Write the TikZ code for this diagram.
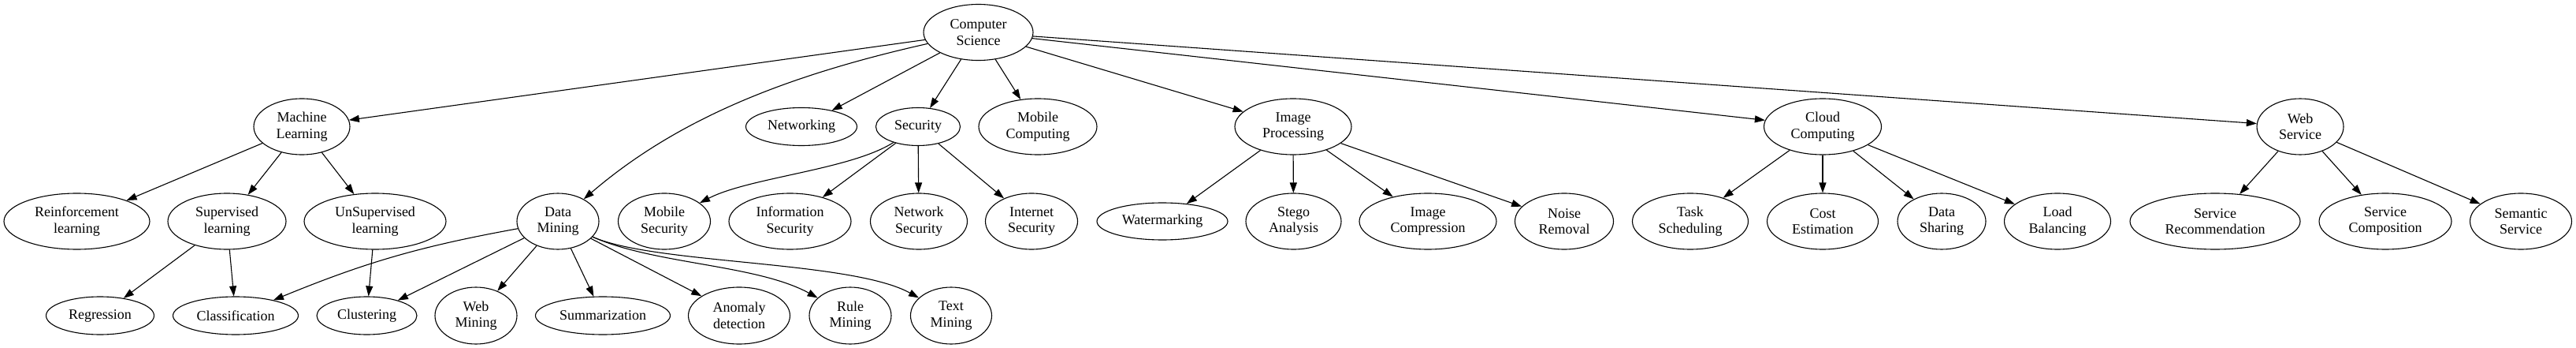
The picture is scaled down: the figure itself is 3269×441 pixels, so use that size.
\documentclass[tikz,border=0pt]{standalone}
\usepackage{fontspec}
\setmainfont{Liberation Serif}
\usepackage{tikz}
\usetikzlibrary{arrows.meta,shapes.geometric}

\tikzset{
  topic/.style={draw, ellipse, line width=1.1pt, inner sep=0pt, align=center,
    minimum height=71, font=\fontsize{18}{20.5}\selectfont},
  flat/.style={topic, minimum height=48},
  link/.style={line width=1.1pt, -{Triangle[length=13pt,width=9pt]}}
}

\begin{document}
\begin{tikzpicture}[x=1pt,y=1pt]
\useasboundingbox (0,0) rectangle (3269,-441);
% root
\node[topic, minimum width=139] (cs) at (1241.5,-41) {Computer\\Science};
% first level
\node[topic, minimum width=122] (ml) at (383,-160.5) {Machine\\Learning};
\node[flat, minimum width=141] (net) at (1017,-160.5) {Networking};
\node[flat, minimum width=107] (sec) at (1165,-160.5) {Security};
\node[topic, minimum width=150] (mc) at (1317,-160.5) {Mobile\\Computing};
\node[topic, minimum width=148] (ip) at (1641,-160.5) {Image\\Processing};
\node[topic, minimum width=149] (cc) at (2313,-160.5) {Cloud\\Computing};
\node[topic, minimum width=110] (ws) at (2919,-160.5) {Web\\Service};
% second level
\node[topic, minimum width=185] (rl) at (97.5,-280.5) {Reinforcement\\learning};
\node[topic, minimum width=150] (sl) at (288,-280.5) {Supervised\\learning};
\node[topic, minimum width=180] (ul) at (476,-280.5) {UnSupervised\\learning};
\node[topic, minimum width=104] (dm) at (708,-280.5) {Data\\Mining};
\node[topic, minimum width=117] (msec) at (843,-280.5) {Mobile\\Security};
\node[topic, minimum width=155] (isec) at (1002.5,-280.5) {Information\\Security};
\node[topic, minimum width=123] (nsec) at (1166,-280.5) {Network\\Security};
\node[topic, minimum width=117] (intsec) at (1309,-280.5) {Internet\\Security};
\node[flat, minimum width=166, minimum height=47] (wm) at (1475,-280.5) {Watermarking};
\node[topic, minimum width=121] (sa) at (1641.5,-280.5) {Stego\\Analysis};
\node[topic, minimum width=174] (ic) at (1812,-280.5) {Image\\Compression};
\node[topic, minimum width=125] (nr) at (1985,-280.5) {Noise\\Removal};
\node[topic, minimum width=147] (ts) at (2145,-280.5) {Task\\Scheduling};
\node[topic, minimum width=141] (ce) at (2313,-280.5) {Cost\\Estimation};
\node[topic, minimum width=112] (ds) at (2464,-280.5) {Data\\Sharing};
\node[topic, minimum width=135] (lb) at (2611,-280.5) {Load\\Balancing};
\node[topic, minimum width=216] (sr) at (2811,-280.5) {Service\\Recommendation};
\node[topic, minimum width=168] (sc) at (3027,-280.5) {Service\\Composition};
\node[topic, minimum width=129] (ss) at (3199,-280.5) {Semantic\\Service};
% third level
\node[flat, minimum width=137] (reg) at (127,-400) {Regression};
\node[flat, minimum width=159] (cls) at (299,-400) {Classification};
\node[flat, minimum width=127] (clu) at (465.5,-400) {Clustering};
\node[topic, minimum width=104, minimum height=72] (webm) at (604,-400) {Web\\Mining};
\node[flat, minimum width=171] (sum) at (765,-400) {Summarization};
\node[topic, minimum width=129, minimum height=72] (ad) at (938,-400) {Anomaly\\detection};
\node[topic, minimum width=104, minimum height=72] (rm) at (1079,-400) {Rule\\Mining};
\node[topic, minimum width=103, minimum height=72] (tm) at (1207,-400) {Text\\Mining};

% edges from the root
\foreach \t in {ml,net,sec,mc,ip,cc,ws}
  \draw[link] (cs) -- (\t);
\draw[link] (cs) .. controls (1000,-95) and (860,-150) .. (dm);
% machine learning
\foreach \t in {rl,sl,ul}
  \draw[link] (ml) -- (\t);
\draw[link] (sl) -- (reg);
\draw[link] (sl) -- (cls);
\draw[link] (ul) -- (clu);
% data mining
\draw[link] (dm) to[bend right=6] (cls);
\foreach \t in {clu,webm,sum,ad}
  \draw[link] (dm) -- (\t);
\draw[link] (dm) .. controls (830,-335) and (960,-335) .. (rm);
\draw[link] (dm) .. controls (830,-335) and (1080,-330) .. (tm);
% security
\draw[link] (sec) .. controls (1080,-215) and (950,-225) .. (msec);
\foreach \t in {isec,nsec,intsec}
  \draw[link] (sec) -- (\t);
% image processing
\foreach \t in {wm,sa,ic,nr}
  \draw[link] (ip) -- (\t);
% cloud computing
\foreach \t in {ts,ce,ds,lb}
  \draw[link] (cc) -- (\t);
% web service
\foreach \t in {sr,sc,ss}
  \draw[link] (ws) -- (\t);
\end{tikzpicture}
\end{document}
